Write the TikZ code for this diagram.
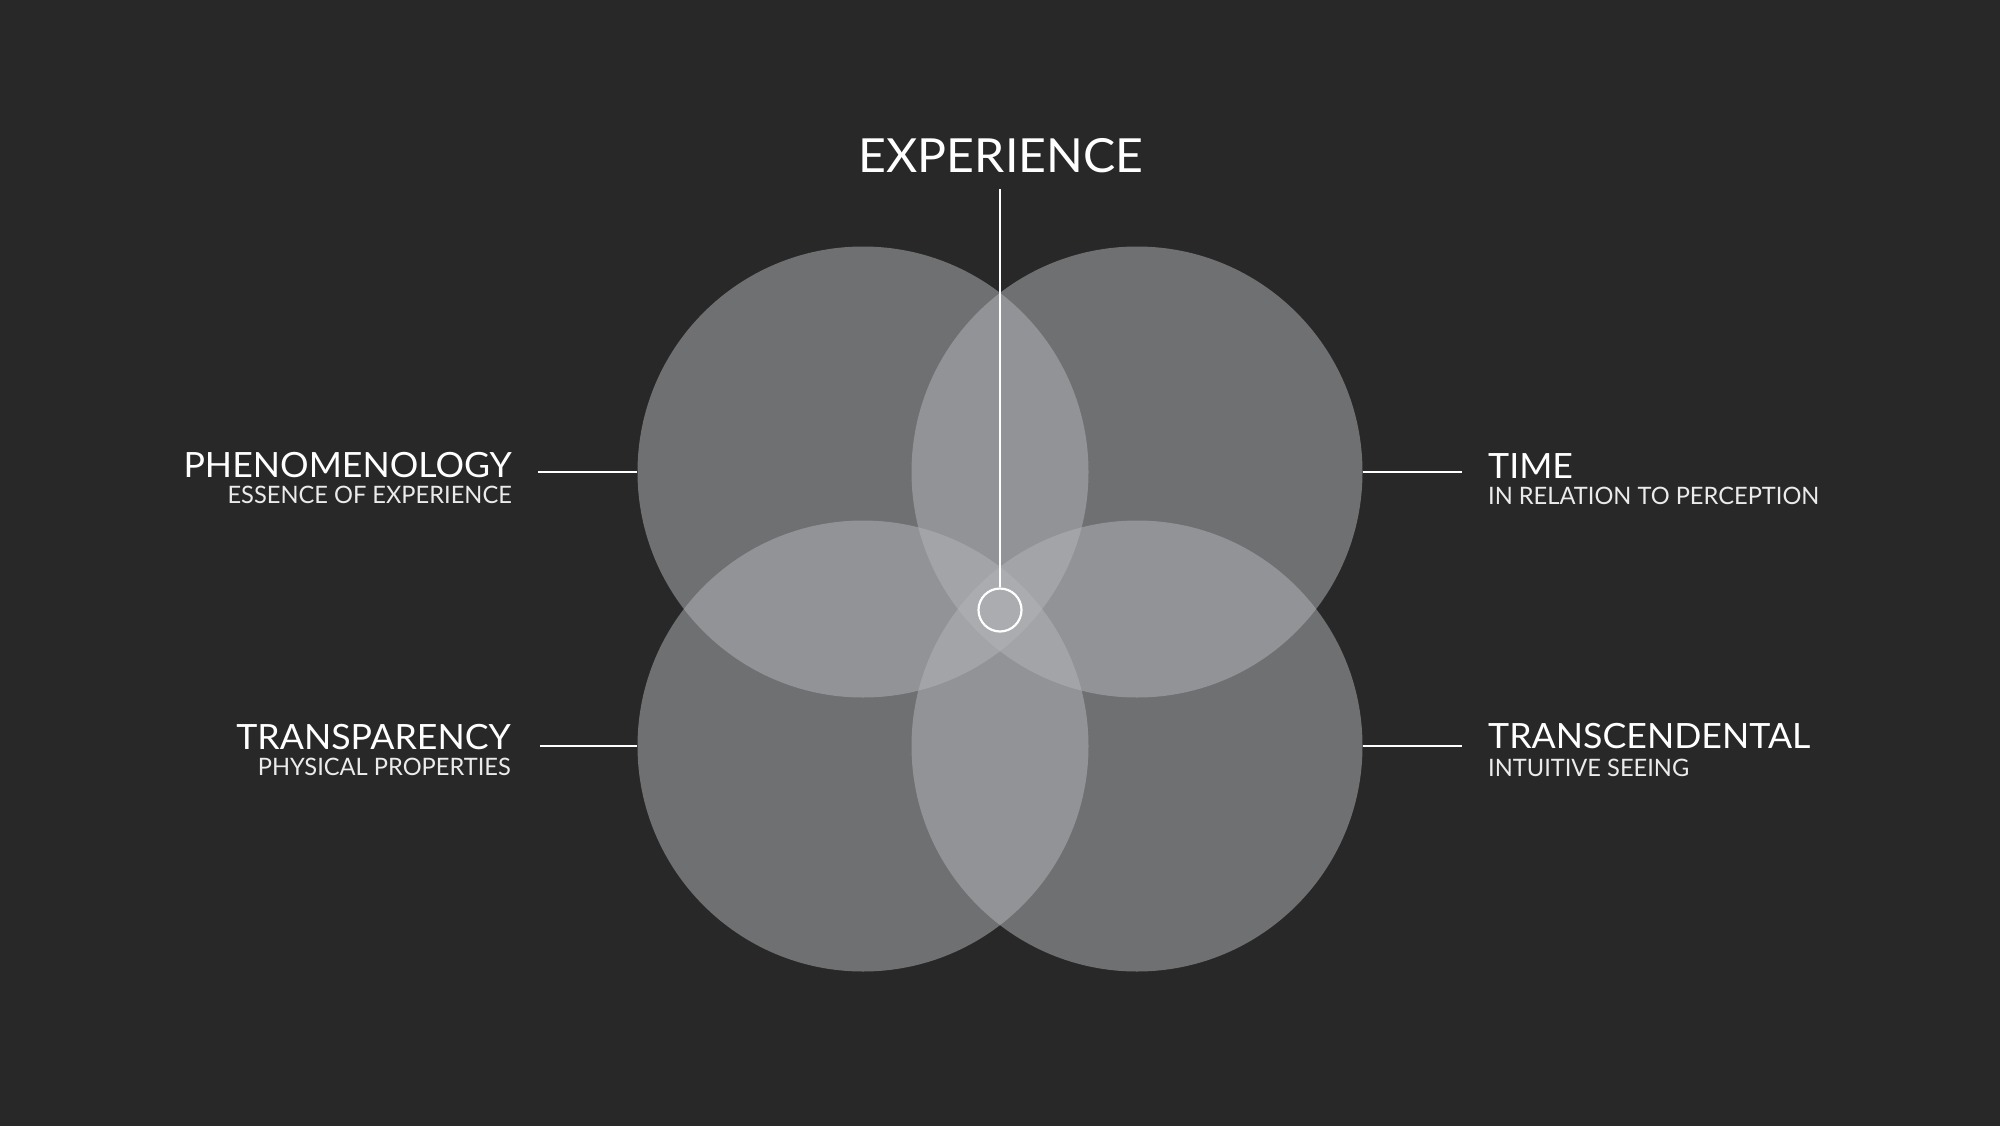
\documentclass[tikz,border=0pt]{standalone}
\usepackage{fontspec}
\setmainfont{Lato}
\newfontfamily\headfont[FakeStretch=1.026]{Lato}
\newfontfamily\subfont[FakeStretch=0.985]{Lato}
\definecolor{bg}{RGB}{40,40,40}
\definecolor{discfill}{RGB}{180,181,185}
\definecolor{subtext}{RGB}{235,235,235}
\begin{document}
\begin{tikzpicture}[x=1pt,y=-1pt,
  disc/.style={circle,fill=discfill,fill opacity=0.514,minimum size=451pt,inner sep=0pt,draw=none},
  lead/.style={draw=white,line width=2pt},
  hubring/.style={circle,draw=white,line width=2.2pt,minimum size=43pt,inner sep=0pt},
  titletext/.style={text=white,inner sep=0pt,font=\headfont\fontsize{47}{52}\selectfont},
  headtext/.style={text=white,inner sep=0pt,font=\headfont\fontsize{34.8}{40}\selectfont},
  subtext/.style={text=subtext,inner sep=0pt,font=\subfont\fontsize{24}{28}\selectfont}]
\useasboundingbox (0,0) rectangle (2000,1125);
\fill[bg] (-10,-10) rectangle (2010,1135);
% discs
\node[disc] (tl) at (863,472) {};
\node[disc] (tr) at (1137,472) {};
\node[disc] (bl) at (863,746) {};
\node[disc] (br) at (1137,746) {};
% hub
\node[hubring] (hub) at (1000,610) {};
% title
\node[titletext,anchor=base] (exp) at (1001,172) {EXPERIENCE};
\coordinate (expfoot) at (1000,189);
\draw[lead] (expfoot) -- (hub.north);
% left labels
\node[headtext,anchor=base east] (phen) at (512,477) {PHENOMENOLOGY};
\node[subtext,anchor=base east] (phensub) at (512,503) {ESSENCE OF EXPERIENCE};
\coordinate (phenend) at (538,472);
\draw[lead] (phenend) -- (tl.west);
\node[headtext,anchor=base east] (transp) at (511,749) {TRANSPARENCY};
\node[subtext,anchor=base east] (transpsub) at (511,775) {PHYSICAL PROPERTIES};
\coordinate (transpend) at (540,746);
\draw[lead] (transpend) -- (bl.west);
% right labels
\node[headtext,anchor=base west] (time) at (1488,478) {TIME};
\node[subtext,anchor=base west] (timesub) at (1488,504) {IN RELATION TO PERCEPTION};
\coordinate (timeend) at (1462,472);
\draw[lead] (tr.east) -- (timeend);
\node[headtext,anchor=base west] (transc) at (1488,748) {TRANSCENDENTAL};
\node[subtext,anchor=base west] (transcsub) at (1488,776) {INTUITIVE SEEING};
\coordinate (transcend) at (1462,746);
\draw[lead] (br.east) -- (transcend);
\end{tikzpicture}
\end{document}
